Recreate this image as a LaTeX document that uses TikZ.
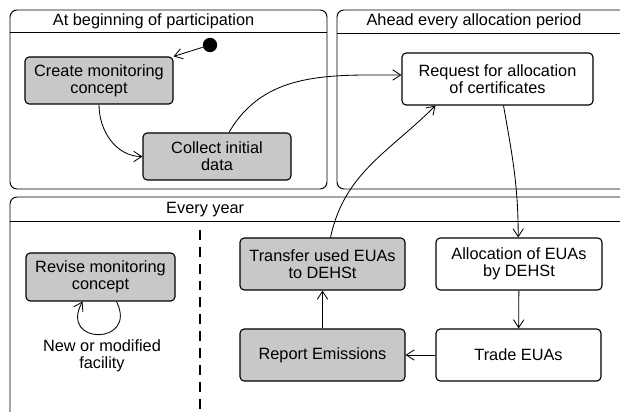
\documentclass[tikz,border=0pt]{standalone}
\usepackage{fontspec}
\setmainfont{Liberation Sans}
\usetikzlibrary{positioning,arrows.meta}
\definecolor{actgray}{RGB}{200,200,200}
\tikzset{act/.style={rectangle,rounded corners=3pt,draw,line width=0.8pt,minimum height=1.3cm,align=center,font=\fontsize{11.6}{12}\selectfont}}
\tikzset{actg/.style={act,fill=actgray}}
\tikzset{frm/.style={draw,rounded corners=5pt,line width=0.7pt}}
\tikzset{ttl/.style={font=\fontsize{11.6}{12}\selectfont}}

\begin{document}
\begin{tikzpicture}[>={Straight Barb[length=2mm,width=2.6mm]},line width=0.6pt]
    \clip (0,0) rectangle (15.5,10.275);
    % swimlanes
    \draw[frm] (0.25,5.55) rectangle (8.175,10.025);
    \draw (0.25,9.475) -- (8.175,9.475);
    \draw[frm] (8.425,5.55) rectangle (15.8,10.025);
    \draw (8.425,9.45) -- (15.8,9.45);
    \draw[frm] (0.25,-0.5) rectangle (15.8,5.35);
    \draw (0.25,4.75) -- (15.8,4.75);
    \draw[dash pattern=on 7pt off 5pt,line width=0.8pt] (5.0,4.525) -- (5.0,0);

    \node[ttl] (t1) at (3.84,9.75) {At beginning of participation};
    \node[ttl] (t2) at (11.85,9.74) {Ahead every allocation period};
    \node[ttl] (t3) at (5.13,5.03) {Every year};

    \node[circle,fill=black,inner sep=0pt,minimum size=0.36cm] (st) at (5.25,9.15) {};
    \node[actg,minimum width=3.7cm,minimum height=1.175cm] (cmc) at (2.475,8.2625) {Create monitoring\\concept};
    \node[actg,minimum width=3.7cm,minimum height=1.175cm] (cid) at (5.425,6.3625) {Collect initial\\data};
    \node[act,minimum width=4.775cm] (rfa) at (12.4375,8.3) {Request for allocation\\of certificates};
    \node[act,minimum width=4.15cm] (aoe) at (12.975,3.675) {Allocation of EUAs\\by DEHSt};
    \node[act,minimum width=4.125cm] (tre) at (12.9625,1.4) {Trade EUAs};
    \node[actg,minimum width=4.125cm] (rem) at (8.0625,1.4) {Report Emissions};
    \node[actg,minimum width=4.125cm] (tue) at (8.0625,3.675) {Transfer used EUAs\\to DEHSt};
    \node[actg,minimum width=3.725cm,minimum height=1.2cm] (rmc) at (2.5125,3.35) {Revise monitoring\\concept};
    \node[ttl,align=center] (nmf) at (2.55,1.38) {New or modified\\facility};

    \draw[->] (st) -- (cmc.north east);
    \draw[->] (cmc.south) to[out=-90,in=180] (cid.west);
    \draw[->] ([xshift=0.3cm]cid.north) to[out=60,in=180] ([yshift=0.1cm]rfa.west);
    \draw[->] ([xshift=0.15cm]rfa.south) to[out=-80,in=90] ([xshift=-0.02cm]aoe.north);
    \draw[->] (aoe) -- (tre);
    \draw[->] (tre) -- (rem);
    \draw[->] (rem) -- (tue);
    \draw[->] ([xshift=0.2cm]tue.north) to[out=78,in=-135] ([xshift=-1.55cm]rfa.south);
    \draw[->] ([xshift=0.4cm]rmc.south) .. controls +(0.55,-1.1) and +(-0.6,-1.1) .. ([xshift=-0.45cm]rmc.south);
\end{tikzpicture}
\end{document}
